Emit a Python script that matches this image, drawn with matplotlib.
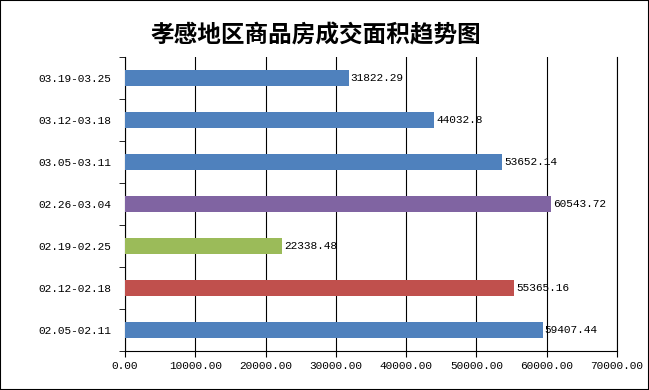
import matplotlib.pyplot as plt
from matplotlib.patches import Rectangle

plt.rcParams['font.family'] = ['Liberation Mono', 'DejaVu Sans Mono']

# --- Data ---
weeks = ["02.05-02.11", "02.12-02.18", "02.19-02.25", "02.26-03.04",
         "03.05-03.11", "03.12-03.18", "03.19-03.25"]
areas = [59407.44, 55365.16, 22338.48, 60543.72, 53652.14, 44032.8, 31822.29]
labels = ["59407.44", "55365.16", "22338.48", "60543.72",
          "53652.14", "44032.8", "31822.29"]
bar_colors = ['#4F81BD', '#C0504D', '#9BBB59', '#8064A2',
              '#4F81BD', '#4F81BD', '#4F81BD']
xticks = [0, 10000, 20000, 30000, 40000, 50000, 60000, 70000]

fig = plt.figure(figsize=(6.49, 3.90), dpi=100)
ax = fig.add_axes([125 / 649, 1 - 351 / 390, 492 / 649, 294 / 390])

ypos = list(range(len(weeks)))
ax.barh(ypos, areas, height=0.38, color=bar_colors, zorder=3)
for y, v, s in zip(ypos, areas, labels):
    ax.text(v + 300, y, s, va='center', ha='left', fontsize=8, zorder=4)

ax.set_xlim(0, 70000)
ax.set_ylim(-0.5, len(weeks) - 0.5)
ax.set_xticks(xticks)
ax.set_xticklabels([f"{t:.2f}" for t in xticks], fontsize=8)
ax.set_yticks(ypos)
ax.set_yticklabels(weeks, fontsize=8)
ax.set_yticks([y - 0.5 for y in ypos] + [len(weeks) - 0.5], minor=True)
ax.tick_params(axis='y', which='major', length=0, pad=10)
ax.tick_params(axis='y', which='minor', length=4, direction='out')
ax.tick_params(axis='x', length=4, direction='out', pad=3)
ax.grid(axis='x', color='black', linewidth=0.8, zorder=0)
for side in ['top', 'bottom']:
    ax.spines[side].set_visible(False)
ax.spines['left'].set_linewidth(0.8)
ax.spines['right'].set_linewidth(0.8)
ax.axhline(-0.5, color='black', linewidth=0.8, clip_on=False)

fig.text(316 / 649, 1 - 35 / 390, "孝感地区商品房成交面积趋势图",
         ha='center', va='center', fontsize=17, fontweight='bold',
         family=['Noto Sans CJK SC', 'DejaVu Sans'])

fig.patches.append(Rectangle((0, 0), 1, 1, transform=fig.transFigure,
                             fill=False, edgecolor='black', linewidth=1.5))

fig.savefig("out.png", dpi=100)
